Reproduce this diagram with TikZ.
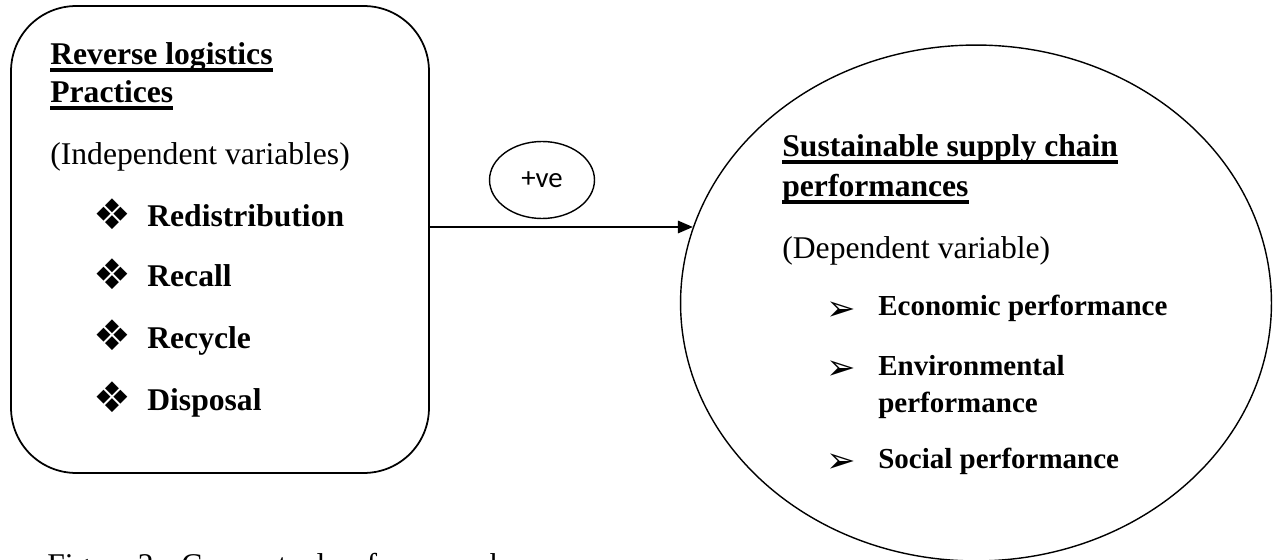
\documentclass[tikz,border=0pt]{standalone}
\usepackage{fontspec}
\setmainfont{Liberation Serif}
\newfontfamily\calfont{Carlito}
\newfontfamily\symfont{DejaVu Sans}
\usetikzlibrary{arrows.meta}
\usetikzlibrary{shapes.geometric}
\usetikzlibrary{positioning}

% thick underline for the headings
\newcommand{\ulbar}[1]{\setbox0\hbox{#1}\rlap{\vrule height -1.9pt depth 3.8pt width \wd0}\box0}

\tikzset{
  txt/.style={anchor=base west, inner sep=0pt, font=\fontsize{18}{22}\selectfont},
  head/.style={anchor=base west, inner sep=0pt, font=\fontsize{18}{22}\selectfont\bfseries},
  sitem/.style={anchor=base west, inner sep=0pt, font=\fontsize{16.5}{20}\selectfont\bfseries},
  dia/.style={anchor=center, inner sep=0pt, font=\fontsize{24}{28}\selectfont\symfont},
  arr/.style={anchor=center, inner sep=0pt, font=\fontsize{20}{24}\selectfont\symfont},
}

\begin{document}
\begin{tikzpicture}[x=0.02cm, y=-0.02cm] % 1 Einheit = 1 Pixel, y nach unten
\useasboundingbox (0,0) rectangle (1273,560);
\clip (0,0) rectangle (1273,560);
% Rahmen links und Ellipse rechts
\node[draw, line width=1pt, rounded corners=1.3cm, minimum width=8.36cm, minimum height=9.34cm] (rl) at (220,239.5) {};
\node[draw, ellipse, line width=0.8pt, inner sep=0pt, minimum width=11.82cm, minimum height=10.32cm] (ssc) at (976,303) {};
% Pfeil mit +ve
\node[draw, ellipse, line width=0.8pt, inner sep=0pt, minimum width=2.1cm, minimum height=1.54cm, font=\fontsize{16.4}{18}\selectfont\calfont] (pos) at (542,180) {+ve};
\coordinate (a0) at (rl.east |- 0,227);
\draw[-{Triangle[length=8.5pt,width=7pt]}, line width=1.2pt] (a0) -- (ssc.165 |- a0);
% Texte links
\node[head] (rl-t1) at (50,65) {\ulbar{Reverse logistics}};
\node[head] (rl-t2) at (50,103) {\ulbar{Practices}};
\node[txt] (rl-sub) at (50,165) {(Independent variables)};
\foreach \nm/\yy/\txt in {redist/227/Redistribution, recall/287/Recall, recyc/348/Recycle, disp/410/Disposal} {
  \node[dia] (b-\nm) at (112,\yy-12.5) {❖};
  \node[head] (i-\nm) at (147,\yy) {\txt};
}
% Texte rechts
\node[head] (ssc-t1) at (782,157) {\ulbar{Sustainable supply chain}};
\node[head] (ssc-t2) at (782,197) {\ulbar{performances}};
\node[txt] (ssc-sub) at (782,258) {(Dependent variable)};
\foreach \nm/\yy/\txt in {econ/316/Economic performance, envi/375/Environmental, soc/468/Social performance} {
  \node[arr] (b-\nm) at (841,\yy-5) {➢};
  \node[sitem] (i-\nm) at (878,\yy) {\txt};
}
\node[sitem] (i-envi2) at (878,412) {performance};
% Bildunterschrift (unten abgeschnitten)
\node[txt] (caption) at (47,575) {Figure 2:\hspace{0.6em}Conceptual\hspace{1.3em}framework};
\end{tikzpicture}
\end{document}
